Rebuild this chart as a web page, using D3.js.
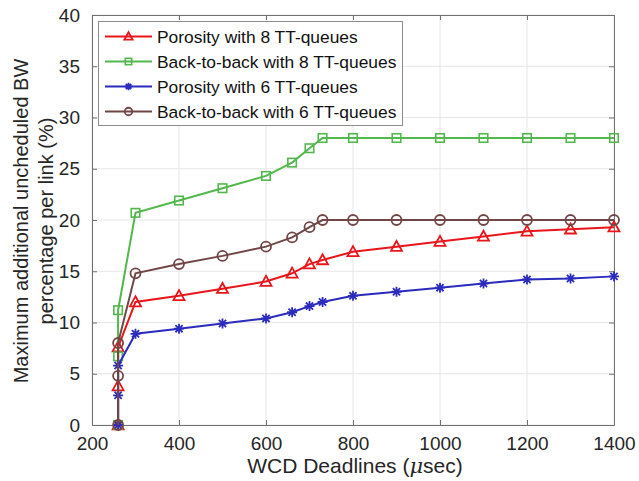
<!DOCTYPE html>
<html>
<head>
<meta charset="utf-8">
<script src="https://cdn.jsdelivr.net/npm/d3@7"></script>
<style>
  body { margin: 0; background: #fff; }
  svg { display: block; font-family: "Liberation Sans", Arial, sans-serif; }
</style>
</head>
<body>
<svg id="chart" width="639" height="481"></svg>
<script>
// ---- data ----
const deadlines = [260, 260, 260, 300, 400, 500, 600, 660, 700, 730, 800, 900, 1000, 1100, 1200, 1300, 1400];
const porosity8 = [0, 3.8, 7.6, 12.0, 12.6, 13.3, 14.0, 14.8, 15.7, 16.1, 16.9, 17.4, 17.9, 18.4, 18.9, 19.1, 19.3];
const backToBack8 = [0, 6.7, 11.2, 20.7, 21.9, 23.1, 24.3, 25.6, 27.0, 28, 28, 28, 28, 28, 28, 28, 28];
const porosity6 = [0, 2.9, 5.8, 8.9, 9.4, 9.9, 10.4, 11.0, 11.6, 12.0, 12.6, 13.0, 13.4, 13.8, 14.2, 14.3, 14.5];
const backToBack6 = [0, 4.8, 8.0, 14.8, 15.7, 16.5, 17.4, 18.3, 19.3, 20, 20, 20, 20, 20, 20, 20, 20];
const seriesNames = ["Porosity with 8 TT-queues", "Back-to-back with 8 TT-queues", "Porosity with 6 TT-queues", "Back-to-back with 6 TT-queues"];
const xTicks = [200, 400, 600, 800, 1000, 1200, 1400];
const yTicks = [0, 5, 10, 15, 20, 25, 30, 35, 40];

const seriesValues = [porosity8, backToBack8, porosity6, backToBack6];
const colors = ["#e8161b", "#52b84c", "#2b2bbd", "#704646"];
const markers = ["triangle", "square", "asterisk", "circle"];

const svg = d3.select("#chart");
const L = 92, R = 614, T = 15, B = 425;
const x = d3.scaleLinear().domain([200, 1400]).range([L, R]);
const y = d3.scaleLinear().domain([0, 40]).range([B, T]);

// grid
const grid = svg.append("g");
grid.selectAll(".gx").data(xTicks).enter().append("line")
  .attr("x1", d => x(d)).attr("x2", d => x(d)).attr("y1", T).attr("y2", B)
  .attr("stroke", "#e6e6e6").attr("stroke-width", 1);
grid.selectAll(".gy").data(yTicks).enter().append("line")
  .attr("x1", L).attr("x2", R).attr("y1", d => y(d)).attr("y2", d => y(d))
  .attr("stroke", "#e6e6e6").attr("stroke-width", 1);

// axes
const tickColor = "#262626";
const fmt = d3.format("d");
const xAxis = d3.axisBottom(x).tickValues(xTicks).tickFormat(fmt).tickSizeInner(-5).tickSizeOuter(0).tickPadding(12);
const yAxis = d3.axisLeft(y).tickValues(yTicks).tickFormat(fmt).tickSizeInner(-5).tickSizeOuter(0).tickPadding(12);
const gx = svg.append("g").attr("transform", `translate(0,${B})`).call(xAxis);
const gy = svg.append("g").attr("transform", `translate(${L},0)`).call(yAxis);
const gx2 = svg.append("g").attr("transform", `translate(0,${T})`).call(d3.axisTop(x).tickValues(xTicks).tickSizeInner(-5).tickSizeOuter(0).tickFormat(""));
const gy2 = svg.append("g").attr("transform", `translate(${R},0)`).call(d3.axisRight(y).tickValues(yTicks).tickSizeInner(-5).tickSizeOuter(0).tickFormat(""));
[gx, gy, gx2, gy2].forEach(g => {
  g.select(".domain").attr("stroke", "#707070").attr("stroke-width", 1);
  g.selectAll(".tick line").attr("stroke", "#707070");
  g.selectAll(".tick text").attr("fill", tickColor).style("font-size", "19px").style("font-family", "Liberation Sans, Arial, sans-serif");
});

// marker drawing
function drawMarker(g, type, cx, cy, color, s) {
  if (type === "triangle") {
    const h = s * 0.95, w = s * 1.1;
    g.append("path").attr("d", `M${cx},${cy - h * 0.6}L${cx + w / 2},${cy + h * 0.45}L${cx - w / 2},${cy + h * 0.45}Z`)
      .attr("fill", "none").attr("stroke", color).attr("stroke-width", 1.8);
  } else if (type === "square") {
    const a = s * 0.85;
    g.append("rect").attr("x", cx - a / 2).attr("y", cy - a / 2).attr("width", a).attr("height", a)
      .attr("fill", "none").attr("stroke", color).attr("stroke-width", 1.6);
  } else if (type === "circle") {
    g.append("circle").attr("cx", cx).attr("cy", cy).attr("r", s / 2)
      .attr("fill", "none").attr("stroke", color).attr("stroke-width", 1.8);
  } else {
    const r = s / 2, d = r * 0.72;
    const p = `M${cx - r},${cy}L${cx + r},${cy}M${cx},${cy - r}L${cx},${cy + r}M${cx - d},${cy - d}L${cx + d},${cy + d}M${cx - d},${cy + d}L${cx + d},${cy - d}`;
    g.append("path").attr("d", p).attr("stroke", color).attr("stroke-width", 1.8).attr("fill", "none");
  }
}

// series
const line = d3.line().x(d => x(d[0])).y(d => y(d[1]));
seriesValues.forEach((vals, i) => {
  const pts = deadlines.map((d, j) => [d, vals[j]]);
  const g = svg.append("g");
  g.append("path").datum(pts).attr("d", line)
    .attr("fill", "none").attr("stroke", colors[i]).attr("stroke-width", 2);
  pts.forEach(p => drawMarker(g, markers[i], x(p[0]), y(p[1]), colors[i], 10));
});

// legend
const lg = svg.append("g");
lg.append("rect").attr("x", 98.5).attr("y", 21.5).attr("width", 304).attr("height", 104)
  .attr("fill", "#fff").attr("stroke", "#8c8c8c").attr("stroke-width", 1);
seriesNames.forEach((name, i) => {
  const ly = 36.5 + i * 25;
  lg.append("line").attr("x1", 105).attr("x2", 152).attr("y1", ly).attr("y2", ly)
    .attr("stroke", colors[i]).attr("stroke-width", 2);
  drawMarker(lg, markers[i], 128.5, ly, colors[i], 7.5);
  lg.append("text").attr("x", 157).attr("y", ly + 6).text(name)
    .attr("fill", "#111").style("font-size", "17.4px");
});

// axis labels
const xl = svg.append("text").attr("x", 355).attr("y", 473).attr("text-anchor", "middle")
  .attr("fill", tickColor).style("font-size", "21px");
xl.append("tspan").text("WCD Deadlines (");
xl.append("tspan").text("μ").style("font-style", "italic").style("font-family", "DejaVu Serif, serif");
xl.append("tspan").text("sec)");

svg.append("text").attr("transform", "translate(28,221) rotate(-90)").attr("text-anchor", "middle")
  .attr("fill", tickColor).style("font-size", "20px").text("Maximum additional uncheduled BW");
svg.append("text").attr("transform", "translate(53,221) rotate(-90)").attr("text-anchor", "middle")
  .attr("fill", tickColor).style("font-size", "20px").text("percentage per link (%)");
</script>
</body>
</html>
